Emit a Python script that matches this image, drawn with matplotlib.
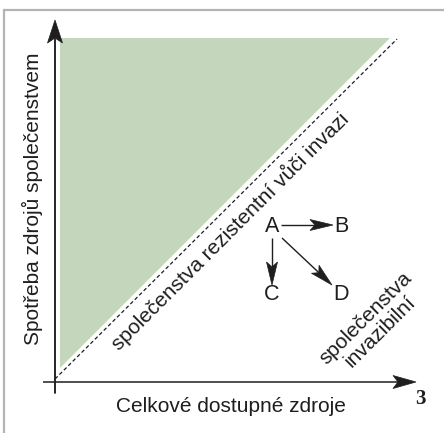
import numpy as np
import matplotlib.pyplot as plt
from matplotlib.patches import Polygon

plt.rcParams['font.family'] = ['Liberation Sans', 'DejaVu Sans']

# schematic layout in pixel space of the original figure
W, H = 444, 433
green_tri_x = [60, 390, 60]
green_tri_y = [38, 38, 368]
diag_x = [55, 397]
diag_y = [379, 39]
node_labels = ['A', 'B', 'C', 'D']
node_x = [272, 341, 272, 341]
node_y = [226, 226, 295, 295]
# arrows as (from, to) node indices
edges = [(0, 1), (0, 2), (0, 3)]

INK = '#1e1e1e'

fig = plt.figure(figsize=(W / 100, H / 100), dpi=100)
ax = fig.add_axes([0, 0, 1, 1])
ax.set_xlim(0, W)
ax.set_ylim(H, 0)
ax.axis('off')


def arrow(x0, y0, x1, y1, hl, hw, notch, lw):
    # shaft plus a notched (stealth) head
    d = np.array([x1 - x0, y1 - y0], float)
    d /= np.hypot(*d)
    n = np.array([-d[1], d[0]])
    tip = np.array([x1, y1])
    back = tip - d * hl
    nb = back + d * notch
    ax.plot([x0, nb[0]], [y0, nb[1]], color=INK, lw=lw, solid_capstyle='butt')
    ax.add_patch(Polygon([tip, back + n * hw, nb, back - n * hw], closed=True,
                         facecolor=INK, edgecolor=INK, lw=0.5))


# grey frame (top and left)
ax.plot([4, 4, W], [H, 9.5, 9.5], color='#b4b4b4', lw=1.6, solid_joinstyle='miter')

ax.add_patch(Polygon(list(zip(green_tri_x, green_tri_y)), closed=True,
                     facecolor='#c4d6bc', edgecolor='none'))
ax.plot(diag_x, diag_y, color=INK, lw=0.9, ls=(0, (3, 2)))

# axes
ax.plot([55, 55], [393, 40], color=INK, lw=1.1)
arrow(55, 393, 55, 20, 23, 7.5, 5, 1.1)
arrow(43, 382, 416, 382, 23, 6.5, 5, 1.1)

ax.text(32, 199, 'Spotřeba zdrojů společenstvem', rotation=90,
        ha='center', va='center', fontsize=15, color=INK)
ax.text(231, 407, 'Celkové dostupné zdroje', ha='center', va='center',
        fontsize=15, color=INK)
ax.text(420, 399, '3', ha='center', va='center', fontsize=15,
        fontweight='bold', family='Liberation Serif', color=INK)

ax.text(230, 231, 'společenstva rezistentní vůči invazi', rotation=45,
        rotation_mode='anchor', ha='center', va='center',
        fontsize=15, color=INK)
ax.text(373, 325, 'společenstva\ninvazibilní', rotation=45,
        rotation_mode='anchor', ha='center', va='center',
        fontsize=15, color=INK, linespacing=1.05)

for lab, x, y in zip(node_labels, node_x, node_y):
    ax.text(x, y, lab, ha='center', va='center', fontsize=15.5, color=INK)

arrow(281, 225, 333, 225, 23, 5.5, 5, 1.0)
arrow(272, 238, 272, 285, 23, 5.5, 5, 1.0)
arrow(282, 238, 332, 285, 23, 5.5, 5, 1.0)

fig.savefig('out.png', dpi=100)
